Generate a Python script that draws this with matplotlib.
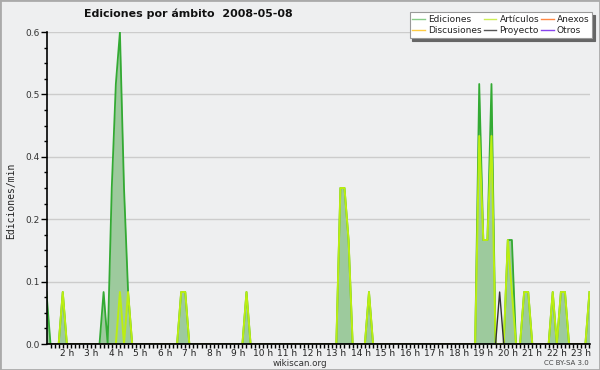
import matplotlib
matplotlib.use("Agg")
import matplotlib.pyplot as plt
from matplotlib.lines import Line2D
from matplotlib.patches import Rectangle
import numpy as np

# 10-minute samples from 01:10 to 23:20 (hours)
start_hour = 1 + 1/6
step_hours = 1/6

# Edits per minute, one row per hour
ediciones = [
    0.1, 0, 0, 0, 0.1,            # 1h (10..50)
    0, 0, 0, 0, 0, 0,             # 2h
    0, 0, 0, 0.1, 0, 0.3,         # 3h
    0.5, 0.6, 0.3, 0.1, 0, 0,     # 4h
    0, 0, 0, 0, 0, 0,             # 5h
    0, 0, 0, 0, 0.1, 0.1,         # 6h
    0, 0, 0, 0, 0, 0,             # 7h
    0, 0, 0, 0, 0, 0,             # 8h
    0, 0, 0.1, 0, 0, 0,           # 9h
    0, 0, 0, 0, 0, 0,             # 10h
    0, 0, 0, 0, 0, 0,             # 11h
    0, 0, 0, 0, 0, 0,             # 12h
    0, 0.3, 0.3, 0.2, 0, 0,       # 13h
    0, 0, 0.1, 0, 0, 0,           # 14h
    0, 0, 0, 0, 0, 0,             # 15h
    0, 0, 0, 0, 0, 0,             # 16h
    0, 0, 0, 0, 0, 0,             # 17h
    0, 0, 0, 0, 0, 0.5,           # 18h
    0.2, 0.2, 0.5, 0, 0, 0,       # 19h
    0.2, 0.2, 0, 0, 0.1, 0.1,     # 20h
    0, 0, 0, 0, 0, 0.1,           # 21h
    0, 0.1, 0.1, 0, 0, 0,         # 22h
    0, 0, 0.1,                    # 23h (00..20)
]
articulos = [
    0, 0, 0, 0, 0.1,
    0, 0, 0, 0, 0, 0,
    0, 0, 0, 0, 0, 0,
    0, 0.1, 0, 0.1, 0, 0,
    0, 0, 0, 0, 0, 0,
    0, 0, 0, 0, 0.1, 0.1,
    0, 0, 0, 0, 0, 0,
    0, 0, 0, 0, 0, 0,
    0, 0, 0.1, 0, 0, 0,
    0, 0, 0, 0, 0, 0,
    0, 0, 0, 0, 0, 0,
    0, 0, 0, 0, 0, 0,
    0, 0.3, 0.3, 0.2, 0, 0,
    0, 0, 0.1, 0, 0, 0,
    0, 0, 0, 0, 0, 0,
    0, 0, 0, 0, 0, 0,
    0, 0, 0, 0, 0, 0,
    0, 0, 0, 0, 0, 0.4,
    0.2, 0.2, 0.4, 0, 0, 0,
    0.2, 0.1, 0, 0, 0.1, 0.1,
    0, 0, 0, 0, 0, 0.1,
    0, 0.1, 0.1, 0, 0, 0,
    0, 0, 0.1,
]
proyecto = [
    0, 0, 0, 0, 0,
    0, 0, 0, 0, 0, 0,
    0, 0, 0, 0, 0, 0,
    0, 0, 0, 0, 0, 0,
    0, 0, 0, 0, 0, 0,
    0, 0, 0, 0, 0, 0,
    0, 0, 0, 0, 0, 0,
    0, 0, 0, 0, 0, 0,
    0, 0, 0, 0, 0, 0,
    0, 0, 0, 0, 0, 0,
    0, 0, 0, 0, 0, 0,
    0, 0, 0, 0, 0, 0,
    0, 0, 0, 0, 0, 0,
    0, 0, 0, 0, 0, 0,
    0, 0, 0, 0, 0, 0,
    0, 0, 0, 0, 0, 0,
    0, 0, 0, 0, 0, 0,
    0, 0, 0, 0, 0, 0,
    0, 0, 0, 0, 0.1, 0,
    0, 0, 0, 0, 0, 0,
    0, 0, 0, 0, 0, 0,
    0, 0, 0, 0, 0, 0,
    0, 0, 0,
]

hour_ticks = list(range(2, 24))
hour_labels = [f"{h} h" for h in hour_ticks]
y_ticks = [0.0, 0.12, 0.24, 0.36, 0.48, 0.6]
y_labels = ["0.0", "0.1", "0.2", "0.4", "0.5", "0.6"]

legend_names = ["Ediciones", "Discusiones", "Artículos", "Proyecto", "Anexos", "Otros"]
legend_colors = ["#88cc88", "#ffcc44", "#ccee55", "#555555", "#ff8844", "#8844ee"]

t = start_hour + step_hours * np.arange(len(ediciones))

bg = "#eeeff0"
fig = plt.figure(figsize=(6, 3.7), dpi=100, facecolor=bg)
ax = fig.add_axes([47/600, 26/370, 543/600, 312/370])
ax.set_facecolor(bg)

ax.fill_between(t, 0, ediciones, color="#9dca9d", lw=0, zorder=2)
ax.plot(t, ediciones, color="#33aa33", lw=1.3, zorder=3)
ax.plot(t, articulos, color="#bbee11", lw=1.4, zorder=4)
ax.plot(t, proyecto, color="#333333", lw=1.0, zorder=5)

ax.set_xlim(1.19, 23.355)
ax.set_ylim(0, 0.6)

ax.set_yticks(y_ticks)
ax.set_yticklabels(y_labels)
ax.set_yticks(np.arange(0, 0.601, 0.03), minor=True)
ax.set_xticks(hour_ticks)
ax.set_xticklabels(hour_labels)
ax.set_xticks(np.arange(1 + 2/6, 23.4, 1/6), minor=True)

ax.tick_params(axis="x", which="both", direction="out", length=3, width=1,
               labelsize=6.5, pad=0.5, labelcolor="#222222")
ax.tick_params(axis="y", which="major", direction="out", length=4, width=1,
               labelsize=6.5, pad=1, labelcolor="#333333")
ax.tick_params(axis="y", which="minor", direction="out", length=2.5, width=1)

for yv in y_ticks[1:]:
    ax.axhline(yv, color="#cccccc", lw=1, zorder=1)

for s in ["top", "right"]:
    ax.spines[s].set_visible(False)
for s in ["left", "bottom"]:
    ax.spines[s].set_color("black")
    ax.spines[s].set_linewidth(1.2)
    ax.spines[s].set_zorder(6)

fig.text(188/600, 1 - 14/370, "Ediciones por ámbito  2008-05-08", ha="center",
         va="center", fontsize=7.9, fontweight="bold", color="#111111")
fig.text(11/600, 1 - 201/370, "Ediciones/min", rotation=90, ha="center",
         va="center", fontsize=7, family="DejaVu Sans Mono", color="#222222")
fig.text(300/600, 1 - 363/370, "wikiscan.org", ha="center", va="center",
         fontsize=6.3, color="#333333")
fig.text(589/600, 1 - 363/370, "CC BY-SA 3.0", ha="right", va="center",
         fontsize=5, color="#444444")

handles = [Line2D([0], [0], color=c, lw=1) for c in legend_colors]
leg = fig.legend(handles, legend_names, ncol=3, loc="upper right",
                 bbox_to_anchor=(592/600, 1 - 12/370), fontsize=6.5,
                 handlelength=1.4, handletextpad=0.35, columnspacing=0.2,
                 labelspacing=0.3, borderpad=0.3, borderaxespad=0,
                 fancybox=False, framealpha=1, labelcolor="#222222",
                 shadow={"color": "#666666", "alpha": 1})
leg.get_frame().set_edgecolor("#999999")
leg.get_frame().set_linewidth(0.8)

fig.patches.append(Rectangle((0, 0), 1, 1, transform=fig.transFigure,
                             fill=False, edgecolor="#aaaaaa", lw=2))

fig.savefig("out.png", dpi=100, facecolor=bg)
